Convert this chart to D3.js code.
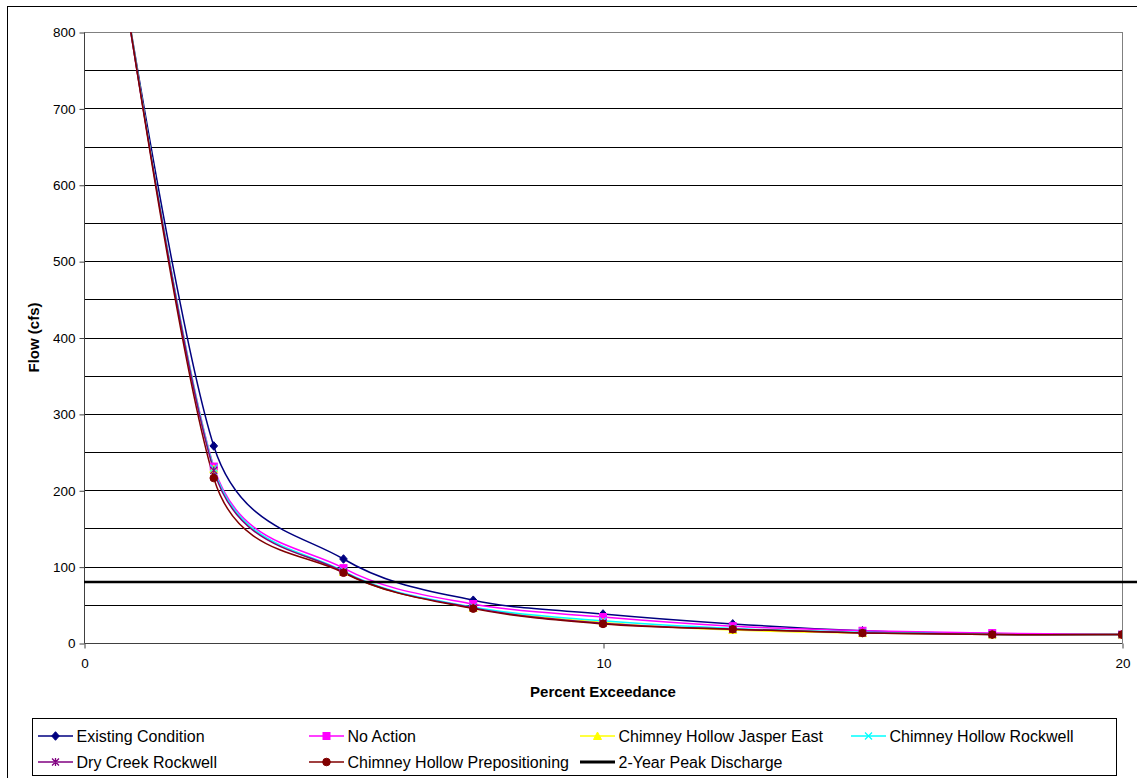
<!DOCTYPE html>
<html><head><meta charset="utf-8">
<script src="https://cdn.jsdelivr.net/npm/d3@7"></script>
<style>body{margin:0;background:#fff}svg{display:block;font-family:"Liberation Sans",Arial,sans-serif}</style>
</head><body><svg id="c" width="1137" height="778"></svg>
<script>
const pct = [0, 2.5, 5, 7.5, 10, 12.5, 15, 17.5, 20];
const existing = [1185, 258, 110, 56, 38, 25, 16, 12, 11];
const noAction = [1200, 231, 98, 51, 34, 22, 16, 13, 11];
const jasperEast = [1205, 228, 93, 46, 27, 17, 13, 11, 11];
const rockwell = [1205, 229, 94, 47, 29, 19, 14, 11, 11];
const dryCreek = [1205, 226, 93, 46, 26, 18, 13, 11, 11];
const prepositioning = [1214, 216, 92, 45, 25, 18, 13, 11, 11];
const peakX = [0, 20.3];
const peakY = [80, 80];
const seriesNames = ["Existing Condition","No Action","Chimney Hollow Jasper East","Chimney Hollow Rockwell","Dry Creek Rockwell","Chimney Hollow Prepositioning","2-Year Peak Discharge"];
const yTicks = [0,100,200,300,400,500,600,700,800];
const yGrid = [50,100,150,200,250,300,350,400,450,500,550,600,650,700,750];
const xTicks = [0,10,20];

const series = [
  {name:seriesNames[0], vals:existing, color:"#000080", marker:"diamond"},
  {name:seriesNames[1], vals:noAction, color:"#FF00FF", marker:"square"},
  {name:seriesNames[2], vals:jasperEast, color:"#FFFF00", marker:"triangle"},
  {name:seriesNames[3], vals:rockwell, color:"#00FFFF", marker:"x"},
  {name:seriesNames[4], vals:dryCreek, color:"#800080", marker:"star"},
  {name:seriesNames[5], vals:prepositioning, color:"#800000", marker:"circle"}
];

// Spreadsheet-style smoothing curve for d3.line (cardinal spline, control offsets capped at half segment)
function SmoothCurve(context){ this._context = context; }
SmoothCurve.prototype = {
  areaStart(){}, areaEnd(){},
  lineStart(){ this._pts = []; },
  point(x,y){ this._pts.push([+x,+y]); },
  lineEnd(){
    const p = this._pts, n = p.length, c = this._context;
    if (!n) return;
    c.moveTo(p[0][0], p[0][1]);
    const dist = (a,b)=>Math.hypot(b[0]-a[0], b[1]-a[1]);
    const tan = i => {
      if (i===0 || i===n-1) return [0,0];
      return [(p[i+1][0]-p[i-1][0])/6, (p[i+1][1]-p[i-1][1])/6];
    };
    for (let i=0;i<n-1;i++){
      const d = dist(p[i],p[i+1]);
      let v1 = tan(i), v2 = tan(i+1);
      const l1 = Math.hypot(v1[0],v1[1]), l2 = Math.hypot(v2[0],v2[1]);
      if (l1 > d/2) { v1 = [v1[0]*d/2/l1, v1[1]*d/2/l1]; }
      if (l2 > d/2) { v2 = [v2[0]*d/2/l2, v2[1]*d/2/l2]; }
      c.bezierCurveTo(p[i][0]+v1[0], p[i][1]+v1[1], p[i+1][0]-v2[0], p[i+1][1]-v2[1], p[i+1][0], p[i+1][1]);
    }
  }
};
const smoothCurve = ctx => new SmoothCurve(ctx);

const svg = d3.select("#c");
const L = 84, R = 1122, T = 32, B = 643;
const x = d3.scaleLinear().domain([0,20]).range([L,R]);
const y = d3.scaleLinear().domain([0,800]).range([B,T]);

svg.append("rect").attr("x",7.5).attr("y",6.5).attr("width",1140).attr("height",790)
  .attr("fill","none").attr("stroke","#000").attr("stroke-width",1);

svg.append("g").selectAll("line").data(yGrid).join("line")
  .attr("x1",L).attr("x2",R).attr("y1",d=>Math.round(y(d))+0.5).attr("y2",d=>Math.round(y(d))+0.5)
  .attr("stroke","#000").attr("stroke-width",1);
svg.append("line").attr("x1",L).attr("x2",R+0.5).attr("y1",Math.round(y(800))+0.5).attr("y2",Math.round(y(800))+0.5).attr("stroke","#808080");
svg.append("line").attr("x1",R+0.5).attr("x2",R+0.5).attr("y1",T).attr("y2",B).attr("stroke","#808080");

const yAxis = svg.append("g").attr("transform",`translate(${L+0.5},0.5)`)
  .call(d3.axisLeft(y).tickValues(yTicks).tickSize(5).tickPadding(4).tickFormat(d3.format("d")));
yAxis.select(".domain").attr("stroke","#404040").attr("d",`M0,${T}V${B}`);
yAxis.selectAll(".tick line").attr("stroke","#404040");
yAxis.selectAll("text").attr("font-size",13.5).attr("fill","#000").attr("font-family","Liberation Sans, Arial, sans-serif");

const xAxis = svg.append("g").attr("transform",`translate(0.5,${B+0.5})`)
  .call(d3.axisBottom(x).tickValues(xTicks).tickSize(5).tickPadding(10).tickFormat(d3.format("d")));
xAxis.select(".domain").attr("stroke","#404040").attr("d",`M${L},0H${R}`);
xAxis.selectAll(".tick line").attr("stroke","#404040");
xAxis.selectAll("text").attr("font-size",13.5).attr("fill","#000").attr("font-family","Liberation Sans, Arial, sans-serif");

svg.append("text").attr("x",(L+R)/2).attr("y",697).attr("text-anchor","middle")
  .attr("font-weight","bold").attr("font-size",15).text("Percent Exceedance");
svg.append("text").attr("transform",`translate(39,${(T+B)/2}) rotate(-90)`).attr("text-anchor","middle")
  .attr("font-weight","bold").attr("font-size",15).text("Flow (cfs)");

svg.append("defs").append("clipPath").attr("id","plot").append("rect")
  .attr("x",L).attr("y",T).attr("width",R-L).attr("height",B-T);

const line = d3.line().x((d,i)=>x(pct[i])).y(d=>y(d)).curve(smoothCurve);

function drawMarker(g, type, color, cx, cy) {
  const s = 3.8;
  if (type==="diamond") g.append("path").attr("d",`M${cx},${cy-s-0.5}L${cx+s},${cy}L${cx},${cy+s+0.5}L${cx-s},${cy}Z`).attr("fill",color).attr("stroke",color);
  else if (type==="square") g.append("rect").attr("x",cx-3.5).attr("y",cy-3.5).attr("width",7).attr("height",7).attr("fill",color).attr("stroke",color);
  else if (type==="triangle") g.append("path").attr("d",`M${cx},${cy-4}L${cx+4},${cy+3.5}L${cx-4},${cy+3.5}Z`).attr("fill",color).attr("stroke",color);
  else if (type==="circle") g.append("circle").attr("cx",cx).attr("cy",cy).attr("r",3.8).attr("fill",color).attr("stroke",color);
  else if (type==="x") g.append("path").attr("d",`M${cx-3.5},${cy-3.5}L${cx+3.5},${cy+3.5}M${cx-3.5},${cy+3.5}L${cx+3.5},${cy-3.5}`).attr("stroke",color).attr("stroke-width",1.3);
  else if (type==="star") g.append("path").attr("d",`M${cx-3.5},${cy-3.5}L${cx+3.5},${cy+3.5}M${cx-3.5},${cy+3.5}L${cx+3.5},${cy-3.5}M${cx},${cy-4}V${cy+4}`).attr("stroke",color).attr("stroke-width",1.3);
}

const plot = svg.append("g").attr("clip-path","url(#plot)");
series.forEach(s=>{
  plot.append("path").attr("d",line(s.vals)).attr("fill","none").attr("stroke",s.color).attr("stroke-width",1.5);
});
series.forEach(s=>{
  const g = plot.append("g");
  s.vals.forEach((v,i)=>drawMarker(g, s.marker, s.color, x(pct[i]), y(v)));
});

svg.append("path").attr("d",d3.line().x(d=>x(d[0])).y(d=>y(d[1]))(peakX.map((d,i)=>[d,peakY[i]])))
  .attr("stroke","#000").attr("stroke-width",2.5).attr("fill","none");

svg.append("rect").attr("x",32.5).attr("y",718.5).attr("width",1084).attr("height",57)
  .attr("fill","#fff").attr("stroke","#000");
const legItems = series.map(s=>({name:s.name,color:s.color,marker:s.marker,w:1.5}))
  .concat([{name:seriesNames[6],color:"#000",marker:null,w:3}]);
legItems.forEach((it,i)=>{
  const col = i%4, row = Math.floor(i/4);
  const lx = 38 + 271*col, ly = 736 + 26*row;
  const g = svg.append("g");
  g.append("line").attr("x1",lx).attr("x2",lx+35).attr("y1",ly).attr("y2",ly).attr("stroke",it.color).attr("stroke-width",it.w);
  if (it.marker) drawMarker(g, it.marker, it.color, lx+17.5, ly);
  g.append("text").attr("x",lx+38.5).attr("y",ly+5.5).attr("font-size",16).text(it.name);
});
</script></body></html>
